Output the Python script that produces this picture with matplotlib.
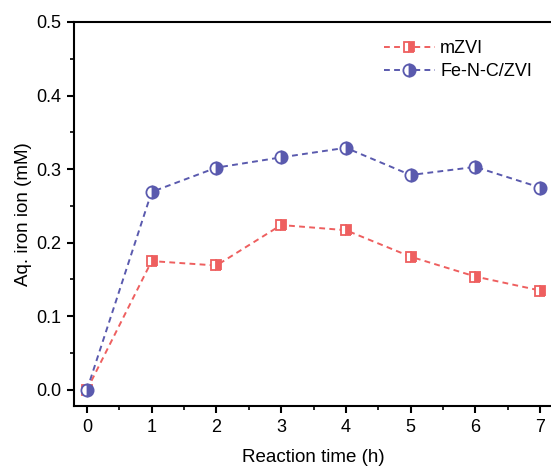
import numpy as np
import matplotlib.pyplot as plt
from matplotlib.ticker import MultipleLocator

plt.rcParams['font.family'] = ['Liberation Sans', 'DejaVu Sans']

# data
time_h = [0, 1, 2, 3, 4, 5, 6, 7]
mzvi = [0.0, 0.175, 0.169, 0.224, 0.217, 0.181, 0.154, 0.135]
fenc_zvi = [0.0, 0.269, 0.302, 0.316, 0.329, 0.292, 0.303, 0.275]

red = '#ee5f5f'
blue = '#5a5aae'

fig = plt.figure(figsize=(5.51, 4.74), dpi=100)
ax = fig.add_axes([74/551, 68/474, 479/551, 384/474])

ax.plot(time_h, mzvi, linestyle=(0, (3, 2.2)), color=red, lw=1.4,
        marker='s', markersize=7.5, markerfacecolor=red, markerfacecoloralt='white',
        fillstyle='right', markeredgecolor=red, markeredgewidth=1.3, label='mZVI')
ax.plot(time_h, fenc_zvi, linestyle=(0, (3, 2.2)), color=blue, lw=1.4,
        marker='o', markersize=8.8, markerfacecolor=blue, markerfacecoloralt='white',
        fillstyle='right', markeredgecolor=blue, markeredgewidth=1.3, label='Fe-N-C/ZVI')

ax.set_xlim(-0.2, 7.2)
ax.set_ylim(-0.022, 0.5)
ax.xaxis.set_major_locator(MultipleLocator(1))
ax.xaxis.set_minor_locator(MultipleLocator(0.5))
ax.yaxis.set_major_locator(MultipleLocator(0.1))
ax.yaxis.set_minor_locator(MultipleLocator(0.05))
ax.yaxis.set_major_formatter(plt.FormatStrFormatter('%.1f'))

for s in ax.spines.values():
    s.set_linewidth(1.5)
ax.tick_params(which='major', direction='out', length=5, width=1.5, labelsize=13, pad=4)
ax.tick_params(which='minor', direction='out', length=3, width=1.2)

ax.set_xlabel('Reaction time (h)', fontsize=13.5, labelpad=10)
ax.set_ylabel('Aq. iron ion (mM)', fontsize=13.5, labelpad=3)

ax.legend(loc='upper right', bbox_to_anchor=(0.99, 0.995), frameon=False,
          fontsize=13, handlelength=2.8, handletextpad=0.3, labelspacing=0.35)

fig.savefig('out.png', dpi=100)
